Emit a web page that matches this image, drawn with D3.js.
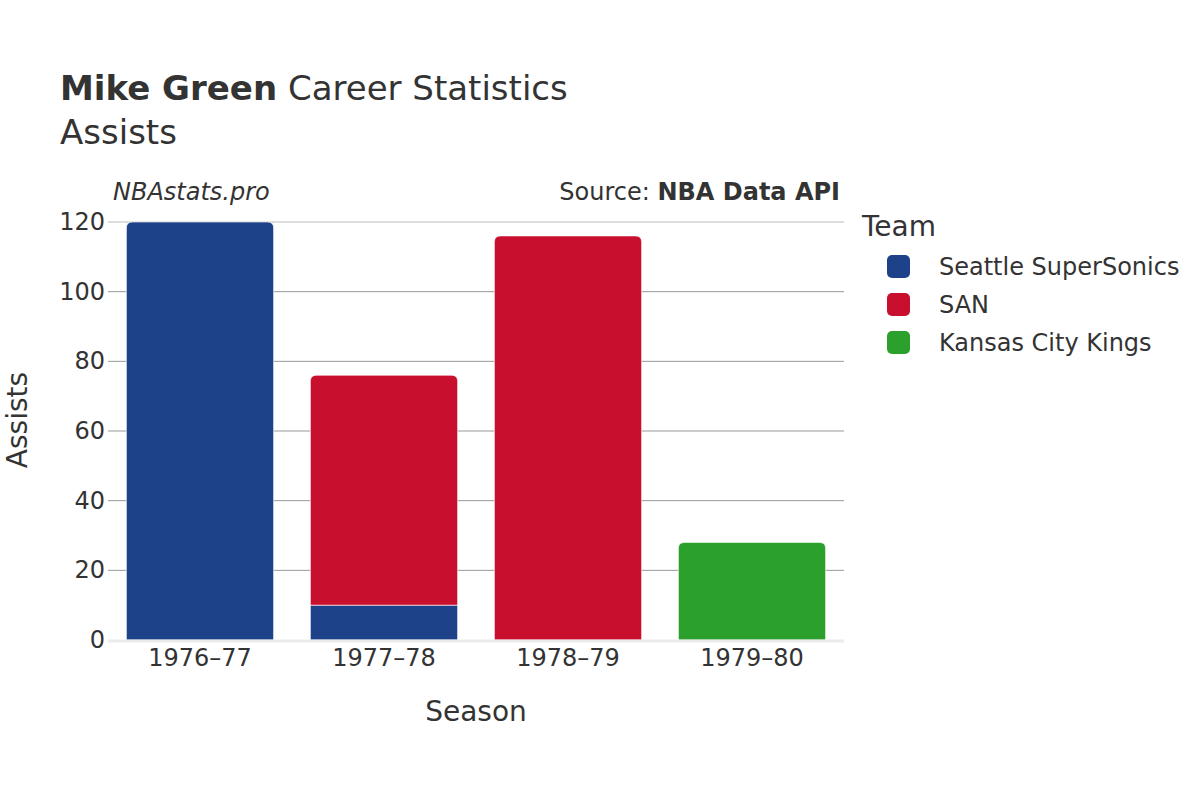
<!DOCTYPE html>
<html>
<head>
<meta charset="utf-8">
<script src="https://cdn.jsdelivr.net/npm/d3@7"></script>
<style>
  body { margin: 0; background: #fff; }
  svg { font-family: "DejaVu Sans", sans-serif; }
</style>
</head>
<body>
<svg id="chart" width="1200" height="800"></svg>
<script>
  const seasons = ['1976–77', '1977–78', '1978–79', '1979–80'];
  const teams = ['Seattle SuperSonics', 'SAN', 'Kansas City Kings'];
  const teamColors = ['#1d428a', '#c8102e', '#2ca02c'];
  // assists per season, one array per team
  const seattle = [120, 10, 0, 0];
  const san = [0, 66, 116, 0];
  const kck = [0, 0, 0, 28];
  const yTicks = [0, 20, 40, 60, 80, 100, 120];

  const svg = d3.select('#chart');
  const textColor = '#333';
  const plotLeft = 108, plotRight = 844, plotTop = 222, plotBottom = 640;

  const x = d3.scaleBand().domain(seasons).range([plotLeft, plotRight]).paddingInner(0.2).paddingOuter(0.1);
  const y = d3.scaleLinear().domain([0, 120]).range([plotBottom, plotTop]);
  const color = d3.scaleOrdinal().domain(teams).range(teamColors);

  const rows = seasons.map(function (s, i) {
    return { season: s, 'Seattle SuperSonics': seattle[i], SAN: san[i], 'Kansas City Kings': kck[i] };
  });
  const series = d3.stack().keys(teams)(rows);

  // gridlines
  svg.append('g')
    .selectAll('line')
    .data(yTicks.filter(function (t) { return t > 0; }))
    .enter()
    .append('line')
    .attr('x1', plotLeft).attr('x2', plotRight)
    .attr('y1', function (d) { return y(d); })
    .attr('y2', function (d) { return y(d); })
    .attr('stroke', function (d) { return d === 120 ? '#bbb' : '#999'; })
    .attr('stroke-width', 1);

  // top segment of each stack gets rounded corners
  function topKey(i) {
    let k = null;
    teams.forEach(function (t) { if (rows[i][t] > 0) k = t; });
    return k;
  }

  function barPath(x0, x1, y0, y1, r) {
    if (r <= 0) return 'M' + x0 + ',' + y0 + 'H' + x1 + 'V' + y1 + 'H' + x0 + 'Z';
    return 'M' + x0 + ',' + y0 +
      'V' + (y1 + r) +
      'Q' + x0 + ',' + y1 + ' ' + (x0 + r) + ',' + y1 +
      'H' + (x1 - r) +
      'Q' + x1 + ',' + y1 + ' ' + x1 + ',' + (y1 + r) +
      'V' + y0 + 'Z';
  }

  const barsG = svg.append('g');
  series.forEach(function (s) {
    barsG.append('g')
      .attr('fill', color(s.key))
      .selectAll('path')
      .data(s.filter(function (d) { return d[1] - d[0] > 0; }))
      .enter()
      .append('path')
      .attr('d', function (d) {
        const i = seasons.indexOf(d.data.season);
        const x0 = x(d.data.season), x1 = x0 + x.bandwidth();
        const r = topKey(i) === s.key ? 6 : 0;
        return barPath(x0, x1, y(d[0]), y(d[1]), r);
      })
      .attr('stroke', '#fff')
      .attr('stroke-width', 1)
      .attr('stroke-opacity', 0.6);
  });

  // zero line
  svg.append('line')
    .attr('x1', plotLeft).attr('x2', plotRight)
    .attr('y1', y(0) + 1).attr('y2', y(0) + 1)
    .attr('stroke', '#ebebeb').attr('stroke-width', 3);

  // y tick labels
  svg.append('g')
    .selectAll('text')
    .data(yTicks)
    .enter()
    .append('text')
    .attr('x', 105)
    .attr('y', function (d) { return y(d) + 8; })
    .attr('text-anchor', 'end')
    .attr('font-size', 24)
    .attr('fill', textColor)
    .text(function (d) { return d; });

  // x tick labels
  svg.append('g')
    .selectAll('text')
    .data(seasons)
    .enter()
    .append('text')
    .attr('x', function (d) { return x(d) + x.bandwidth() / 2; })
    .attr('y', 666)
    .attr('text-anchor', 'middle')
    .attr('font-size', 24)
    .attr('fill', textColor)
    .text(function (d) { return d; });

  // axis titles
  svg.append('text')
    .attr('x', 476).attr('y', 721)
    .attr('text-anchor', 'middle').attr('font-size', 28).attr('fill', textColor)
    .text('Season');
  svg.append('text')
    .attr('transform', 'translate(27,420) rotate(-90)')
    .attr('text-anchor', 'middle').attr('font-size', 28).attr('fill', textColor)
    .text('Assists');

  // title
  const title = svg.append('text').attr('x', 60).attr('y', 100).attr('font-size', 34).attr('fill', textColor);
  title.append('tspan').attr('font-weight', 'bold').text('Mike Green');
  title.append('tspan').text(' Career Statistics');
  svg.append('text').attr('x', 60).attr('y', 144).attr('font-size', 34).attr('fill', textColor).text('Assists');

  svg.append('text').attr('x', 113).attr('y', 200).attr('font-size', 24)
    .attr('font-style', 'italic').attr('fill', textColor).text('NBAstats.pro');
  const src = svg.append('text').attr('x', 840).attr('y', 200).attr('font-size', 24)
    .attr('text-anchor', 'end').attr('fill', textColor);
  src.append('tspan').text('Source: ');
  src.append('tspan').attr('font-weight', 'bold').text('NBA Data API');

  // legend
  svg.append('text').attr('x', 862).attr('y', 236).attr('font-size', 28).attr('fill', textColor).text('Team');
  const legend = svg.append('g')
    .selectAll('g')
    .data(teams)
    .enter()
    .append('g')
    .attr('transform', function (d, i) { return 'translate(0,' + (266 + i * 38) + ')'; });
  legend.append('rect')
    .attr('x', 887).attr('y', -11).attr('width', 23).attr('height', 23).attr('rx', 5)
    .attr('fill', function (d) { return color(d); });
  legend.append('text')
    .attr('x', 939).attr('y', 9).attr('font-size', 24).attr('fill', textColor)
    .text(function (d) { return d; });
</script>
</body>
</html>
